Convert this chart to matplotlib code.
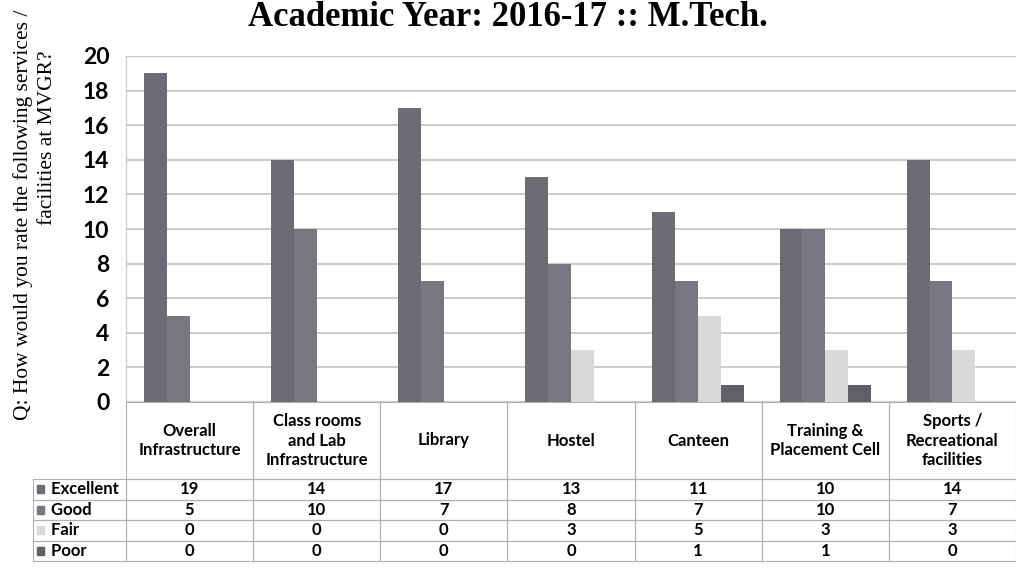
import matplotlib
matplotlib.use("Agg")
import matplotlib.pyplot as plt
from matplotlib.table import Table
from matplotlib.patches import Rectangle
import numpy as np

categories = ["Overall\nInfrastructure", "Class rooms\nand Lab\nInfrastructure", "Library",
              "Hostel", "Canteen", "Training &\nPlacement Cell",
              "Sports /\nRecreational\nfacilities"]
ratings = ["Excellent", "Good", "Fair", "Poor"]
excellent = [19, 14, 17, 13, 11, 10, 14]
good = [5, 10, 7, 8, 7, 10, 7]
fair = [0, 0, 0, 3, 5, 3, 3]
poor = [0, 0, 0, 0, 1, 1, 0]
series = [excellent, good, fair, poor]
colors = ["#6c6c75", "#77777f", "#d9d9d9", "#606068"]

sans = ["Lato", "DejaVu Sans"]
serif = ["Liberation Serif", "DejaVu Serif"]

fig = plt.figure(figsize=(10.16, 5.85), dpi=100)
ax = fig.add_axes([126 / 1016, 1 - 402 / 585, 890 / 1016, 346 / 585])

n = len(categories)
x = np.arange(n)
bw = 0.18
for i, (vals, c) in enumerate(zip(series, colors)):
    ax.bar(x + (i - 1.5) * bw, vals, width=bw, color=c, linewidth=0, zorder=3)

ax.set_xlim(-0.5, n - 0.5)
ax.set_ylim(0, 20)
ax.set_yticks(range(0, 21, 2))
ax.set_xticks([])
ax.tick_params(axis="y", length=0, pad=12)
for lb in ax.get_yticklabels():
    lb.set_fontfamily(sans)
    lb.set_fontweight("bold")
    lb.set_fontsize(16.5)
ax.grid(axis="y", color="#c4c4c4", linewidth=1.2, zorder=0)
for s in ["right", "bottom"]:
    ax.spines[s].set_visible(False)
ax.spines["top"].set_color("#c4c4c4")
ax.spines["left"].set_color("#c8c8c8")

# data table below the plot
lab_w = 93 / 890
col_w = 1 / n
head_h = 77
row_h = 20.5
tot_h = head_h + row_h * len(ratings)
tb = Table(ax, bbox=[-lab_w, -tot_h / 346, 1 + lab_w, tot_h / 346])
edge = "#b0b0b0"
for j, cat in enumerate(categories):
    tb.add_cell(0, j + 1, col_w, head_h, text=cat, loc="center",
                edgecolor=edge, facecolor="none")
for r, name in enumerate(ratings):
    tb.add_cell(r + 1, 0, lab_w, row_h, text="    " + name, loc="left",
                edgecolor=edge, facecolor="none")
    for j in range(n):
        tb.add_cell(r + 1, j + 1, col_w, row_h, text=str(series[r][j]), loc="center",
                    edgecolor=edge, facecolor="none")
tb.auto_set_font_size(False)
tb.set_fontsize(12)
for cell in tb.get_celld().values():
    cell.set_linewidth(0.8)
    t = cell.get_text()
    t.set_fontfamily(sans)
    t.set_fontweight("bold")
    t.set_linespacing(1.3)
    cell.PAD = 0.02
ax.add_table(tb)

# legend keys in the row labels
for r, c in enumerate(colors):
    yc = -(head_h + row_h * (r + 0.5)) / 346
    ax.add_patch(Rectangle((-0.1, yc - 0.011), 0.0075, 0.022, transform=ax.transAxes,
                           color=c, clip_on=False))

fig.text(0.5, 1 - 26 / 585, "Academic Year: 2016-17 :: M.Tech.", ha="center",
         va="baseline", fontfamily=serif, fontweight="bold", fontsize=25)
fig.text(23 / 1016, 1 - 215 / 585, "Q: How would you rate the following services /",
         rotation=90, ha="center", va="center", fontfamily=serif, fontsize=15.5)
fig.text(48 / 1016, 1 - 138 / 585, "facilities at MVGR?",
         rotation=90, ha="center", va="center", fontfamily=serif, fontsize=15.5)

fig.savefig("out.png", dpi=100)
